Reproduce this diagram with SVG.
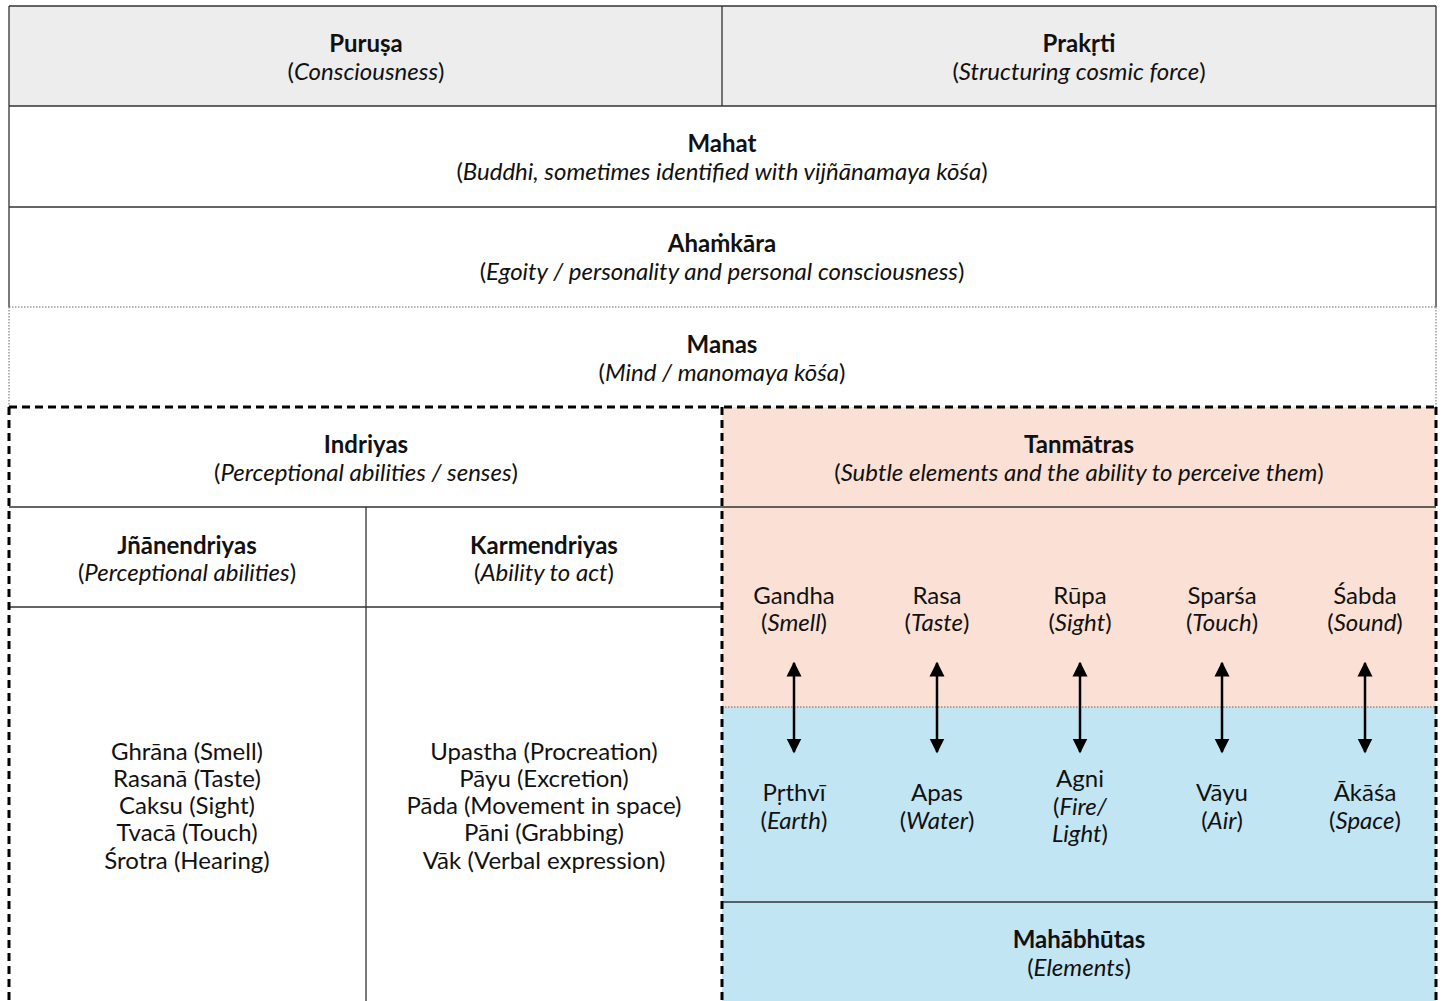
<svg xmlns="http://www.w3.org/2000/svg" width="1442" height="1001" viewBox="0 0 1442 1001">
<defs>
<style>
text{font-family:Lato,"Noto Sans",sans-serif;font-size:24px;fill:#111;text-anchor:middle}
.b{font-weight:bold}
.i{font-style:italic}
.ln{stroke:#333;stroke-width:1.3;fill:none}
.dot{stroke:#666;stroke-width:1;stroke-dasharray:1.5 1.5;fill:none}
.dash{stroke:#000;stroke-width:3;stroke-dasharray:8 5;fill:none}
.arr{stroke:#000;stroke-width:2.5;marker-start:url(#ah);marker-end:url(#ah)}
</style>
<marker id="ah" viewBox="0 0 10 10" refX="9" refY="5" markerWidth="6" markerHeight="6.5" orient="auto-start-reverse" markerUnits="strokeWidth">
<path d="M0,0 L10,5 L0,10 z" fill="#000"/>
</marker>
</defs>
<rect x="0" y="0" width="1442" height="1001" fill="#fff"/>
<g id="fills">
<rect x="9" y="6" width="1427" height="100" fill="#ededed"/>
<rect x="722" y="407" width="714" height="300" fill="#fbe1d5"/>
<rect x="722" y="707" width="714" height="294" fill="#c2e5f4"/>
</g>
<g id="connectors">
<path class="ln" d="M9,6 H1436 M9,106 H1436 M9,207 H1436 M722,6 V106 M9,6 V307 M1436,6 V307"/>
<path class="dot" d="M9,307 H1436 M9,307 V407 M1436,307 V407 M722,707 H1436"/>
<path class="ln" d="M9,507 H1436 M9,607 H722 M366,507 V1001 M722,902 H1436"/>
<path class="dash" d="M9,407 H1436 M9,407 V1001 M722,407 V1001 M1436,407 V1001"/>
<line class="arr" x1="794" y1="663" x2="794" y2="752"/>
<line class="arr" x1="937" y1="663" x2="937" y2="752"/>
<line class="arr" x1="1080" y1="663" x2="1080" y2="752"/>
<line class="arr" x1="1222" y1="663" x2="1222" y2="752"/>
<line class="arr" x1="1365" y1="663" x2="1365" y2="752"/>
</g>
<g id="purusa"><text x="366" y="52" class="b">Puruṣa</text><text x="366" y="80">(<tspan class="i">Consciousness</tspan>)</text></g>
<g id="prakrti"><text x="1079" y="52" class="b">Prakṛti</text><text x="1079" y="80">(<tspan class="i">Structuring cosmic force</tspan>)</text></g>
<g id="mahat"><text x="722" y="152" class="b">Mahat</text><text x="722" y="180">(<tspan class="i">Buddhi, sometimes identified with vijñānamaya kōśa</tspan>)</text></g>
<g id="ahamkara"><text x="722" y="252" class="b">Ahaṁkāra</text><text x="722" y="280">(<tspan class="i">Egoity / personality and personal consciousness</tspan>)</text></g>
<g id="manas"><text x="722" y="353" class="b">Manas</text><text x="722" y="381">(<tspan class="i">Mind / manomaya kōśa</tspan>)</text></g>
<g id="indriyas"><text x="366" y="453" class="b">Indriyas</text><text x="366" y="481">(<tspan class="i">Perceptional abilities / senses</tspan>)</text></g>
<g id="tanmatras"><text x="1079" y="453" class="b">Tanmātras</text><text x="1079" y="481">(<tspan class="i">Subtle elements and the ability to perceive them</tspan>)</text></g>
<g id="jnanendriyas"><text x="187" y="554" class="b">Jñānendriyas</text><text x="187" y="581">(<tspan class="i">Perceptional abilities</tspan>)</text></g>
<g id="karmendriyas"><text x="544" y="554" class="b">Karmendriyas</text><text x="544" y="581">(<tspan class="i">Ability to act</tspan>)</text></g>
<g id="jnana-list">
<text x="187" y="760">Ghrāna (Smell)</text>
<text x="187" y="787">Rasanā (Taste)</text>
<text x="187" y="814">Caksu (Sight)</text>
<text x="187" y="841">Tvacā (Touch)</text>
<text x="187" y="869">Śrotra (Hearing)</text>
</g>
<g id="karma-list">
<text x="544" y="760">Upastha (Procreation)</text>
<text x="544" y="787">Pāyu (Excretion)</text>
<text x="544" y="814">Pāda (Movement in space)</text>
<text x="544" y="841">Pāni (Grabbing)</text>
<text x="544" y="869">Vāk (Verbal expression)</text>
</g>
<g id="gandha"><text x="794" y="604">Gandha</text><text x="794" y="631">(<tspan class="i">Smell</tspan>)</text></g>
<g id="rasa"><text x="937" y="604">Rasa</text><text x="937" y="631">(<tspan class="i">Taste</tspan>)</text></g>
<g id="rupa"><text x="1080" y="604">Rūpa</text><text x="1080" y="631">(<tspan class="i">Sight</tspan>)</text></g>
<g id="sparsa"><text x="1222" y="604">Sparśa</text><text x="1222" y="631">(<tspan class="i">Touch</tspan>)</text></g>
<g id="sabda"><text x="1365" y="604">Śabda</text><text x="1365" y="631">(<tspan class="i">Sound</tspan>)</text></g>
<g id="prthvi"><text x="794" y="801">Pṛthvī</text><text x="794" y="829">(<tspan class="i">Earth</tspan>)</text></g>
<g id="apas"><text x="937" y="801">Apas</text><text x="937" y="829">(<tspan class="i">Water</tspan>)</text></g>
<g id="agni"><text x="1080" y="787">Agni</text><text x="1080" y="815">(<tspan class="i">Fire/</tspan></text><text x="1080" y="842"><tspan class="i">Light</tspan>)</text></g>
<g id="vayu"><text x="1222" y="801">Vāyu</text><text x="1222" y="829">(<tspan class="i">Air</tspan>)</text></g>
<g id="akasa"><text x="1365" y="801">Ākāśa</text><text x="1365" y="829">(<tspan class="i">Space</tspan>)</text></g>
<g id="mahabhutas"><text x="1079" y="948" class="b">Mahābhūtas</text><text x="1079" y="976">(<tspan class="i">Elements</tspan>)</text></g>
</svg>
